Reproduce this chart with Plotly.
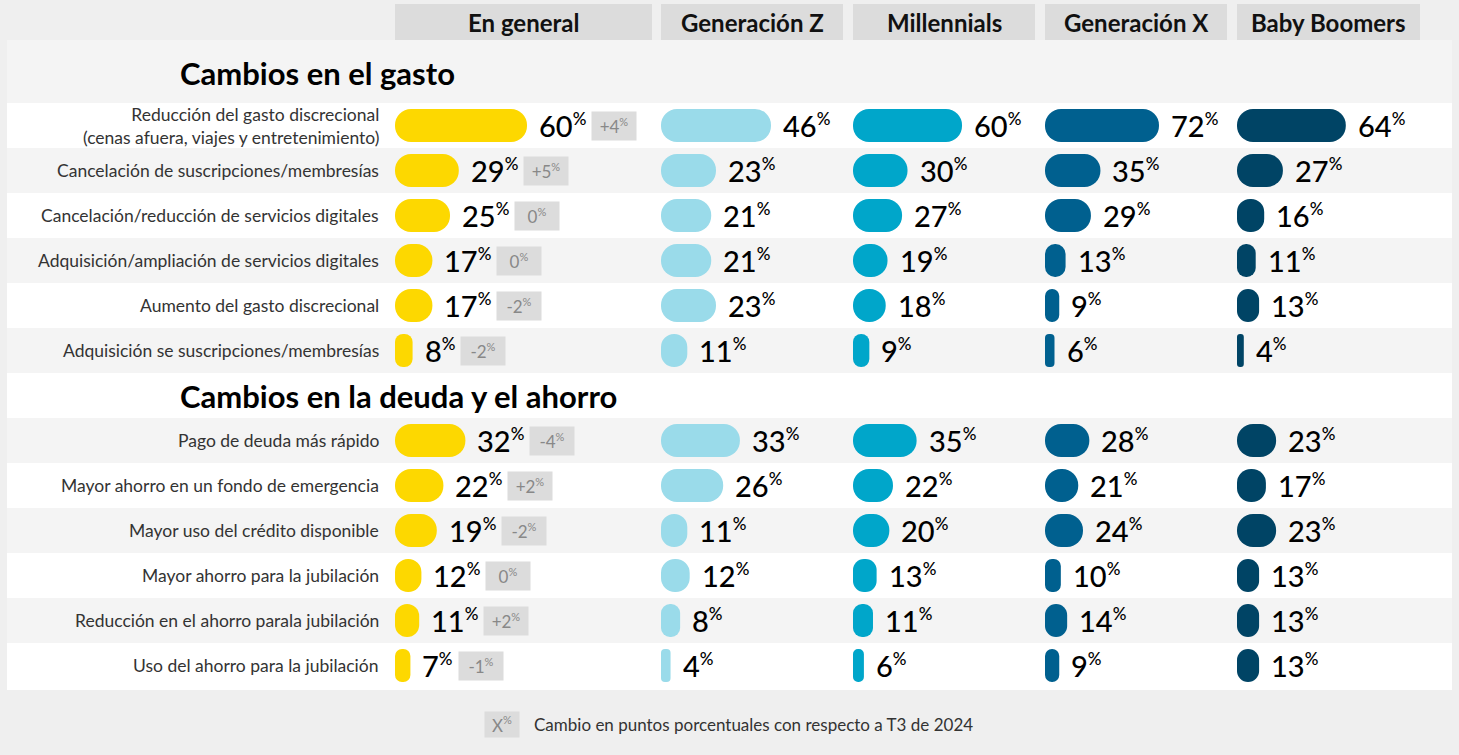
import plotly.graph_objects as go

# ---------------- data ----------------
groups = ["En general", "Generación Z", "Millennials", "Generación X", "Baby Boomers"]
sections = ["Cambios en el gasto", "Cambios en la deuda y el ahorro"]
labels_gasto = [
    "Reducción del gasto discrecional<br>(cenas afuera, viajes y entretenimiento)",
    "Cancelación de suscripciones/membresías",
    "Cancelación/reducción de servicios digitales",
    "Adquisición/ampliación de servicios digitales",
    "Aumento del gasto discrecional",
    "Adquisición se suscripciones/membresías",
]
labels_deuda = [
    "Pago de deuda más rápido",
    "Mayor ahorro en un fondo de emergencia",
    "Mayor uso del crédito disponible",
    "Mayor ahorro para la jubilación",
    "Reducción en el ahorro parala jubilación",
    "Uso del ahorro para la jubilación",
]
en_general = [60, 29, 25, 17, 17, 8, 32, 22, 19, 12, 11, 7]
gen_z = [46, 23, 21, 21, 23, 11, 33, 26, 11, 12, 8, 4]
millennials = [60, 30, 27, 19, 18, 9, 35, 22, 20, 13, 11, 6]
gen_x = [72, 35, 29, 13, 9, 6, 28, 21, 24, 10, 14, 9]
baby_boomers = [64, 27, 16, 11, 13, 4, 23, 17, 23, 13, 13, 13]
cambio_t3 = ["+4", "+5", "0", "0", "-2", "-2", "-4", "+2", "-2", "0", "+2", "-1"]
legend_badge = "X"
legend_text = "Cambio en puntos porcentuales con respecto a T3 de 2024"

# ---------------- layout / style ----------------
W, H = 1459, 755
FONT = "Lato"
col_x0 = [395, 661, 853, 1045, 1237]
col_x1 = [652, 843, 1035, 1227, 1420]
px_per_pt = [2.2, 2.391, 1.817, 1.583, 1.70]
colors = ["#FDD800", "#9ADBEA", "#00A6CA", "#00608F", "#004465"]
ROW_H = 45
BAR_H = 33
PANEL = (7, 40, 1452, 690)
HEAD1 = (40, 103)
sec1_top = 103
sec2_head = (373, 418)
sec2_top = 418

labels = labels_gasto + labels_deuda
n1 = len(labels_gasto)
row_y = [sec1_top + ROW_H * i + ROW_H / 2 for i in range(n1)] + \
        [sec2_top + ROW_H * j + ROW_H / 2 for j in range(len(labels_deuda))]

fig = go.Figure()

shapes = []
shapes.append(dict(type="rect", x0=PANEL[0], x1=PANEL[2], y0=PANEL[1], y1=PANEL[3],
                   fillcolor="#ffffff", line=dict(width=0), layer="below"))
shapes.append(dict(type="rect", x0=PANEL[0], x1=PANEL[2], y0=HEAD1[0], y1=HEAD1[1],
                   fillcolor="#f4f4f4", line=dict(width=0), layer="below"))
for i in range(n1):
    if i % 2 == 1:
        shapes.append(dict(type="rect", x0=PANEL[0], x1=PANEL[2],
                           y0=sec1_top + ROW_H * i, y1=sec1_top + ROW_H * (i + 1),
                           fillcolor="#f4f4f4", line=dict(width=0), layer="below"))
for j in range(len(labels_deuda)):
    if j % 2 == 0:
        shapes.append(dict(type="rect", x0=PANEL[0], x1=PANEL[2],
                           y0=sec2_top + ROW_H * j, y1=sec2_top + ROW_H * (j + 1),
                           fillcolor="#f4f4f4", line=dict(width=0), layer="below"))
for c in range(5):
    shapes.append(dict(type="rect", x0=col_x0[c], x1=col_x1[c], y0=4, y1=40,
                       fillcolor="#dcdcdc", line=dict(width=0), layer="below"))

annotations = []
for c, g in enumerate(groups):
    annotations.append(dict(x=(col_x0[c] + col_x1[c]) / 2, y=22, text=g, showarrow=False,
                            xanchor="center", yanchor="middle",
                            font=dict(family=FONT, size=24, color="#111111", weight="bold")))
annotations.append(dict(x=178, y=73, text=sections[0], showarrow=False, xanchor="left",
                        yanchor="middle", font=dict(family=FONT, size=31, color="#000000", weight="bold")))
annotations.append(dict(x=178, y=(sec2_head[0] + sec2_head[1]) / 2, text=sections[1], showarrow=False,
                        xanchor="left", yanchor="middle",
                        font=dict(family=FONT, size=31, color="#000000", weight="bold")))
for lab, y in zip(labels, row_y):
    annotations.append(dict(x=381, y=y, text=lab, showarrow=False, xanchor="right", yanchor="middle",
                            align="right", font=dict(family=FONT, size=17.5, color="#333333")))

series = [en_general, gen_z, millennials, gen_x, baby_boomers]
PCT = "<sup><span style='font-size:17px'>%</span></sup>"
PCT_SMALL = "<sup><span style='font-size:11px'>%</span></sup>"


def val_width(v):
    return 16.5 * len(str(v)) + 13


for c, vals in enumerate(series):
    s = px_per_pt[c]
    lengths = [v * s for v in vals]
    fig.add_trace(go.Bar(x=lengths, base=[col_x0[c]] * len(vals), y=row_y, orientation="h",
                         width=BAR_H,
                         marker=dict(color=colors[c], cornerradius="50%", line=dict(width=0)),
                         hoverinfo="skip", showlegend=False))
    for k, v in enumerate(vals):
        end = col_x0[c] + v * s
        annotations.append(dict(x=end + 10, y=row_y[k], text=f"{v}{PCT}", showarrow=False,
                                xanchor="left", yanchor="middle",
                                font=dict(family=FONT, size=29, color="#000000", weight=500)))
        if c == 0:
            annotations.append(dict(x=end + 10 + val_width(v) + 8, y=row_y[k],
                                    text=f"{cambio_t3[k]}{PCT_SMALL}", showarrow=False,
                                    xanchor="left", yanchor="middle", bgcolor="#dcdcdc",
                                    width=44, height=28, borderpad=0, align="center",
                                    font=dict(family=FONT, size=17, color="#888888")))

annotations.append(dict(x=484, y=724, text=f"{legend_badge}{PCT_SMALL}", showarrow=False,
                        xanchor="left", yanchor="middle", bgcolor="#dcdcdc", width=34, height=25,
                        borderpad=0, font=dict(family=FONT, size=17, color="#888888")))
annotations.append(dict(x=532, y=724, text=legend_text, showarrow=False, xanchor="left",
                        yanchor="middle", font=dict(family=FONT, size=17, color="#333333")))

fig.update_layout(
    width=W, height=H, margin=dict(l=0, r=0, t=0, b=0),
    paper_bgcolor="#efefef", plot_bgcolor="#efefef",
    barmode="overlay",
    xaxis=dict(range=[0, W], visible=False, fixedrange=True),
    yaxis=dict(range=[H, 0], visible=False, fixedrange=True),
    shapes=shapes, annotations=annotations, showlegend=False,
)
fig.write_html("out.html", config={"displayModeBar": False},
               post_script="document.body.style.margin='0';document.body.style.background='#efefef';")
